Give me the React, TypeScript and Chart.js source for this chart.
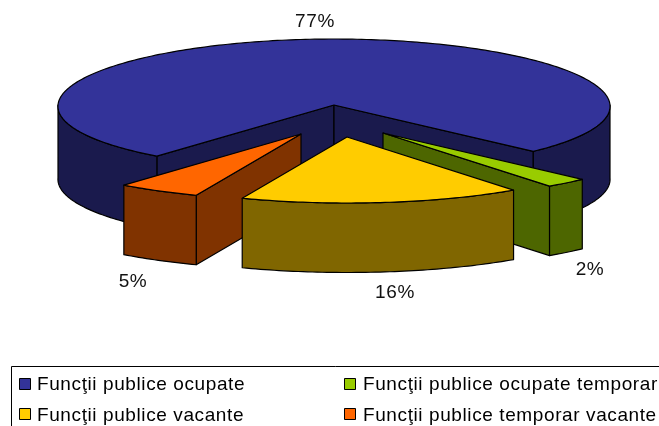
import React, { useEffect, useRef } from "react";
import { Chart, registerables } from "chart.js";

Chart.register(...registerables);

const categories = [
  "Funcţii publice ocupate",
  "Funcţii publice ocupate temporar",
  "Funcţii publice vacante",
  "Funcţii publice temporar vacante",
];
const shares = [76.5, 2.49, 16.2, 4.81];
const topColors = ["#333399", "#99CC00", "#FFCC00", "#FF6600"];
const wallColors = ["#1A1A4D", "#4D6600", "#806600", "#803300"];

// Tilted-view settings for the pie the library lays out
const explode = [
  [0, 0],
  [49, 28],
  [13, 32],
  [-33, 29],
];
const stretchX = 276;
const stretchY = 66;
const perspective = 0.02;
const depths = [73, 69.5, 69.5, 69.5];
const labelAnchors = [
  [315, 27],
  [590, 275],
  [395, 298],
  [133, 287],
];
const FONT = '19px "Liberation Sans", Arial, sans-serif';

const pie3d = {
  id: "pie3d",
  beforeDatasetDraw() {
    return false;
  },
  afterDatasetsDraw(chart: any) {
    const ctx = chart.ctx as CanvasRenderingContext2D;
    const arcs = chart.getDatasetMeta(0).data as any[];
    const order = arcs
      .map((el, i) => ({ el, i, mid: (el.startAngle + el.endAngle) / 2 }))
      .sort((p, q) => Math.sin(p.mid) - Math.sin(q.mid));

    ctx.save();
    ctx.lineJoin = "round";
    ctx.lineWidth = 1.2;
    ctx.strokeStyle = "#000";

    for (const { el, i } of order) {
      const R = el.outerRadius;
      const sx = stretchX / R;
      const sy = stretchY / R;
      const depth = depths[i];
      const cx = el.x + explode[i][0];
      const cy = el.y + explode[i][1];
      const rim = (t: number, dz = 0): [number, number] => [
        cx + R * sx * Math.cos(t) * (1 + perspective * Math.sin(t)),
        cy + R * sy * Math.sin(t) + dz,
      ];
      const poly = (pts: [number, number][], fill: string) => {
        ctx.beginPath();
        pts.forEach((p, k) => (k ? ctx.lineTo(p[0], p[1]) : ctx.moveTo(p[0], p[1])));
        ctx.closePath();
        ctx.fillStyle = fill;
        ctx.fill();
        ctx.stroke();
      };
      const TAU = Math.PI * 2;
      let a = el.startAngle % TAU;
      if (a < 0) a += TAU;
      const b = a + (el.endAngle - el.startAngle);
      const arcPts = (from: number, to: number, dz = 0) => {
        const n = Math.max(2, Math.ceil(((to - from) * 180) / Math.PI));
        const out: [number, number][] = [];
        for (let k = 0; k <= n; k++) out.push(rim(from + ((to - from) * k) / n, dz));
        return out;
      };
      const wall = wallColors[i];
      const hub: [number, number] = [cx, cy];
      const hubLow: [number, number] = [cx, cy + depth];

      if (-Math.cos(a) > 0) poly([hub, rim(a), rim(a, depth), hubLow], wall);
      if (Math.cos(b) > 0) poly([hub, rim(b), rim(b, depth), hubLow], wall);

      for (const [lo, hi] of [
        [0, Math.PI],
        [TAU, TAU + Math.PI],
      ]) {
        const from = Math.max(a, lo);
        const to = Math.min(b, hi);
        if (to > from) poly([...arcPts(from, to), ...arcPts(from, to, depth).reverse()], wall);
      }
      poly([hub, ...arcPts(a, b)], topColors[i]);
    }

    // percentage labels
    ctx.font = FONT;
    (ctx as any).letterSpacing = "0.6px";
    ctx.fillStyle = "#111";
    ctx.textAlign = "center";
    ctx.textBaseline = "alphabetic";
    const total = shares.reduce((s, v) => s + v, 0);
    shares.forEach((v, i) => {
      ctx.fillText(`${Math.round((v / total) * 100)}%`, labelAnchors[i][0], labelAnchors[i][1]);
    });

    // legend
    ctx.lineWidth = 1;
    ctx.strokeStyle = "#000";
    ctx.strokeRect(11.5, 366.5, 700, 100);
    ctx.textAlign = "left";
    categories.forEach((label, i) => {
      const col = i % 2;
      const row = Math.floor(i / 2);
      const mx = col ? 344 : 19;
      const my = row ? 408 : 378;
      ctx.fillStyle = topColors[i];
      ctx.fillRect(mx + 0.5, my + 0.5, 11, 11);
      ctx.strokeRect(mx + 0.5, my + 0.5, 11, 11);
      ctx.fillStyle = "#000";
      ctx.fillText(label, col ? 363 : 37, row ? 421 : 390);
    });
    ctx.restore();
  },
};

export default function App() {
  const ref = useRef<HTMLCanvasElement>(null);
  useEffect(() => {
    const chart = new Chart(ref.current!, {
      type: "pie",
      data: {
        labels: categories,
        datasets: [{ data: shares, backgroundColor: topColors, borderColor: "#000", borderWidth: 0 }],
      },
      options: {
        responsive: false,
        animation: false,
        rotation: 219.2,
        layout: { padding: { left: 9, right: 0, top: 0, bottom: 216 } },
        plugins: { legend: { display: false }, tooltip: { enabled: false } },
      },
      plugins: [pie3d],
    } as any);
    return () => chart.destroy();
  }, []);
  return (
    <div style={{ position: "fixed", left: 0, top: 0, width: 659, height: 426, overflow: "hidden", background: "#fff" }}>
      <canvas ref={ref} width={659} height={426} style={{ display: "block" }} />
    </div>
  );
}
